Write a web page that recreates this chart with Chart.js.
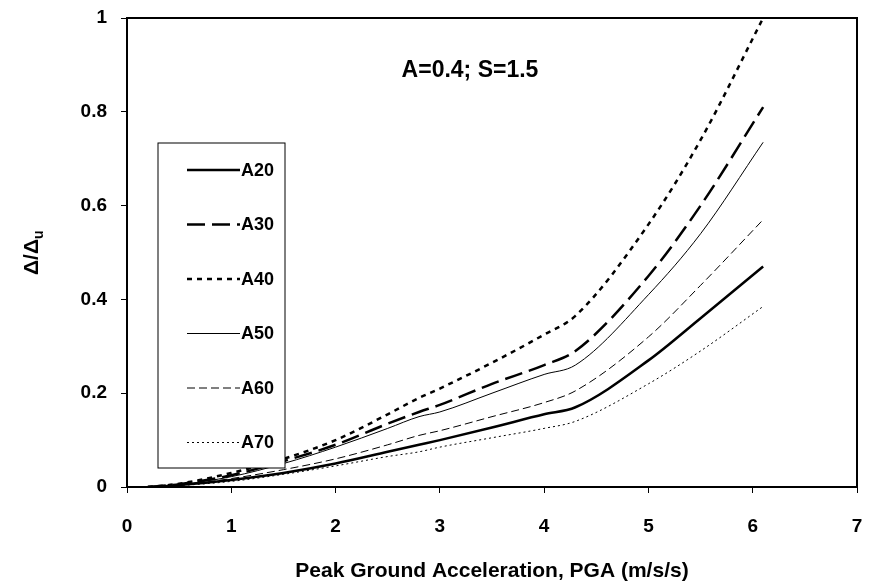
<!DOCTYPE html>
<html>
<head>
<script src="https://cdn.jsdelivr.net/npm/chart.js@4"></script>
<style>
  body { margin: 0; background: #fff; }
  #wrap { width: 869px; height: 588px; }
</style>
</head>
<body>
<div id="wrap"><canvas id="myChart" width="869" height="588"></canvas></div>
<script>
const pga = [0.2, 0.5, 1, 1.5, 2, 2.5, 2.8, 3, 3.5, 4, 4.3, 5, 5.5, 6.1];
const a20 = [0, 0.004, 0.015, 0.03, 0.05, 0.075, 0.09, 0.1, 0.127, 0.155, 0.17, 0.27, 0.36, 0.47];
const a30 = [0, 0.006, 0.025, 0.055, 0.09, 0.135, 0.16, 0.175, 0.22, 0.26, 0.29, 0.45, 0.6, 0.81];
const a40 = [0, 0.007, 0.03, 0.06, 0.1, 0.155, 0.19, 0.21, 0.265, 0.325, 0.365, 0.56, 0.74, 1.0];
const a50 = [0, 0.005, 0.022, 0.05, 0.085, 0.125, 0.15, 0.16, 0.2, 0.24, 0.26, 0.41, 0.54, 0.735];
const a60 = [0, 0.004, 0.018, 0.037, 0.06, 0.09, 0.11, 0.12, 0.15, 0.18, 0.205, 0.32, 0.43, 0.57];
const a70 = [0, 0.003, 0.012, 0.027, 0.045, 0.065, 0.075, 0.085, 0.105, 0.125, 0.14, 0.22, 0.29, 0.385];
const labels = ["A20", "A30", "A40", "A50", "A60", "A70"];
const styles = [
  { w: 2.5, dash: [] },
  { w: 2.5, dash: [18, 7] },
  { w: 2.5, dash: [5, 5] },
  { w: 1, dash: [] },
  { w: 1, dash: [8, 4] },
  { w: 1, dash: [2, 3] },
];
const series = [a20, a30, a40, a50, a60, a70];
const fam = "Arial, 'Liberation Sans', sans-serif";

const datasets = series.map((s, i) => ({
  label: labels[i],
  data: s.map((v, j) => ({ x: pga[j], y: v })),
  borderColor: "#000",
  borderWidth: styles[i].w,
  borderDash: styles[i].dash,
  pointRadius: 0,
  cubicInterpolationMode: "monotone",
  fill: false,
}));

const extras = {
  id: "extras",
  afterDraw(chart) {
    const ctx = chart.ctx, a = chart.chartArea;
    ctx.save();
    ctx.strokeStyle = "#000";
    ctx.lineWidth = 2;
    ctx.strokeRect(a.left, a.top, a.right - a.left, a.bottom - a.top);
    ctx.fillStyle = "#000";
    ctx.font = "bold 23px " + fam;
    ctx.textAlign = "center";
    ctx.textBaseline = "middle";
    ctx.fillText("A=0.4; S=1.5", 470, 71);
    // legend box
    ctx.fillStyle = "#fff";
    ctx.fillRect(158, 143, 127, 325);
    ctx.fillStyle = "#000";
    ctx.lineWidth = 1;
    ctx.strokeRect(158, 143, 127, 325);
    ctx.font = "bold 18px " + fam;
    ctx.textAlign = "left";
    labels.forEach((l, i) => {
      const y = 170 + i * 54.5;
      ctx.beginPath();
      ctx.lineWidth = styles[i].w;
      ctx.setLineDash(styles[i].dash);
      ctx.moveTo(187, y);
      ctx.lineTo(240, y);
      ctx.stroke();
      ctx.setLineDash([]);
      ctx.fillText(l, 241, y + 1);
    });
    // y title
    ctx.translate(32, 252);
    ctx.rotate(-Math.PI / 2);
    ctx.font = "bold 21px " + fam;
    const w = ctx.measureText("Δ/Δ").width;
    ctx.fillText("Δ/Δ", -w / 2 - 5, 0);
    ctx.font = "bold 14px " + fam;
    ctx.fillText("u", w / 2 - 5, 7);
    ctx.restore();
  },
};

const tickFont = { size: 19, weight: "bold", family: fam };
new Chart(document.getElementById("myChart"), {
  type: "line",
  data: { datasets },
  options: {
    responsive: false,
    animation: false,
    layout: { padding: { top: 18, right: 12, left: 0, bottom: 0 } },
    plugins: { legend: { display: false }, tooltip: { enabled: false } },
    scales: {
      x: {
        type: "linear", min: 0, max: 7,
        ticks: { stepSize: 1, color: "#000", font: tickFont, padding: 22 },
        grid: { drawOnChartArea: false, tickLength: 6, color: "#000" },
        border: { display: false },
        title: { display: true, text: "Peak Ground Acceleration, PGA (m/s/s)", color: "#000",
          font: { size: 21, weight: "bold", family: fam }, padding: { top: 14 } },
        afterFit(s) { s.height = 101; s.paddingRight = 0; s.paddingLeft = 0; },
      },
      y: {
        min: 0, max: 1,
        ticks: { stepSize: 0.2, color: "#000", font: tickFont, padding: 14,
          callback: v => (v === 0 || v === 1) ? String(v) : v.toFixed(1) },
        grid: { drawOnChartArea: false, tickLength: 6, color: "#000" },
        border: { display: false },
        afterFit(s) { s.width = 127; s.paddingTop = 0; s.paddingBottom = 0; },
      },
    },
  },
  plugins: [extras],
});
</script>
</body>
</html>
